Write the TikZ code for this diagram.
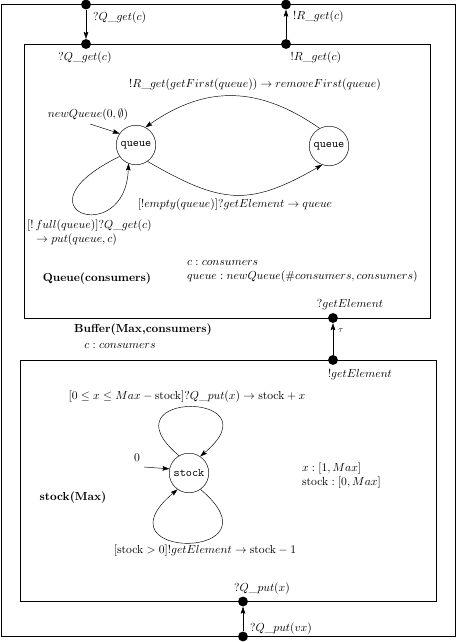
\documentclass[tikz,border=0pt]{standalone}
\usepackage{amssymb}
\usepackage{amsmath}
\usepackage{tikz}
\usetikzlibrary{automata, positioning, arrows.meta}
\tikzset{
>={Stealth[length=6pt, width=4pt, inset=1pt]}, % filled arrow heads
every state/.style={thin, minimum size=34pt, inner sep=1pt, font=\ttfamily}, % the locations
port/.style={circle, fill=black, inner sep=0pt, minimum size=8.5pt}, % the gates on the boxes
box/.style={draw, thin}, % the components
}

\begin{document}
\begin{tikzpicture}[x=0.86pt, y=0.86pt]
                \useasboundingbox (0,0) rectangle (457,-642);
                % components
                \draw[box] (1.5,-4.5) rectangle (455,-636.5);
                \draw[box] (24,-44) rectangle (430,-318);
                \draw[box] (20.5,-360) rectangle (436.5,-601.5);
                % gates
                \node[port] (outget) at (86,-4.5) {};
                \node[port] (qget) at (86,-44) {};
                \node[port] (outres) at (286,-4.5) {};
                \node[port] (qres) at (286,-44) {};
                \node[port] (qelem) at (333,-318) {};
                \node[port] (selem) at (333,-360) {};
                \node[port] (sput) at (243,-601.5) {};
                \node[port] (output) at (243,-636.5) {};
                \draw[->] (outget) -- (qget);
                \draw[->] (qres) -- (outres);
                \draw[->] (selem) -- (qelem);
                \draw[->] (output) -- (sput);
                \node[anchor=west] (outgetlbl) at (89,-18) {$?Q\_get(c)$};
                \node[anchor=west] (outreslbl) at (289,-17) {$!R\_get(c)$};
                \node (qgetlbl) at (85,-58) {$?Q\_get(c)$};
                \node (qreslbl) at (316,-58) {$!R\_get(c)$};
                \node (qelemlbl) at (350,-305) {$?getElement$};
                \node (selemlbl) at (360,-375) {$!getElement$};
                \node[anchor=west, font=\scriptsize] (taulbl) at (334,-331) {$\tau$};
                \node (sputlbl) at (262,-589) {$?Q\_put(x)$};
                \node (outputlbl) at (281,-629) {$?Q\_put(vx)$};
                % queue
                \node[state] (q1) at (136,-145) {queue};
                \node[state] (q2) at (329,-146) {queue};
                \coordinate (q1init) at (90,-124);
                \draw[->] (q1init) -- (q1.145);
                \draw[->] (q2.118) .. controls +(145:74) and +(35:74) .. (q1.62);
                \draw[->] (q1.-55) .. controls +(-30:85) and +(-150:85) .. (q2.-110);
                \draw[->] (q1.215) .. controls +(206:122) and +(268:86) .. (q1.248);
                \node (newq) at (88,-115) {$newQueue(0,\emptyset)$};
                \node (firstlbl) at (255,-85) {$!R\_get(getFirst(queue)) \rightarrow removeFirst(queue)$};
                \node (emptylbl) at (235,-205) {$[!empty(queue)]?getElement \rightarrow queue$};
                \node[align=left, anchor=west] (fulllbl) at (23,-232.5) {$[!\,full(queue)]?Q\_get(c)$\\\hspace{8pt}$\rightarrow put(queue,c)$};
                \node[font=\bfseries] (queuename) at (97,-279) {Queue(consumers)};
                \node[align=left, anchor=west] (qdecl) at (183,-271) {$c : consumers$\\$queue : newQueue(\#consumers, consumers)$};
                % buffer
                \node[font=\bfseries] (buffername) at (143,-330) {Buffer(Max,consumers)};
                \node (bufdecl) at (120,-346) {$c : consumers$};
                % stock
                \node[state] (st) at (189,-473) {stock};
                \coordinate (stinit) at (144,-467);
                \draw[->] (stinit) -- (st.168);
                \draw[->] (st.120) .. controls +(140:102) and +(40:102) .. (st.56);
                \draw[->] (st.-55) .. controls +(-40:111) and +(-140:111) .. (st.-125);
                \node (init0) at (137,-458) {$0$};
                \node (putlbl) at (187,-397) {$[0 \le x \le Max - \mathrm{stock}]?Q\_put(x) \rightarrow \mathrm{stock} + x$};
                \node (getlbl) at (205,-551) {$[\mathrm{stock} > 0]!getElement \rightarrow \mathrm{stock} - 1$};
                \node[font=\bfseries] (stockname) at (73,-498) {stock(Max)};
                \node[align=left, anchor=west] (sdecl) at (298,-476) {$x : [1, Max]$\\$\mathrm{stock} : [0, Max]$};
                \end{tikzpicture}
\end{document}
